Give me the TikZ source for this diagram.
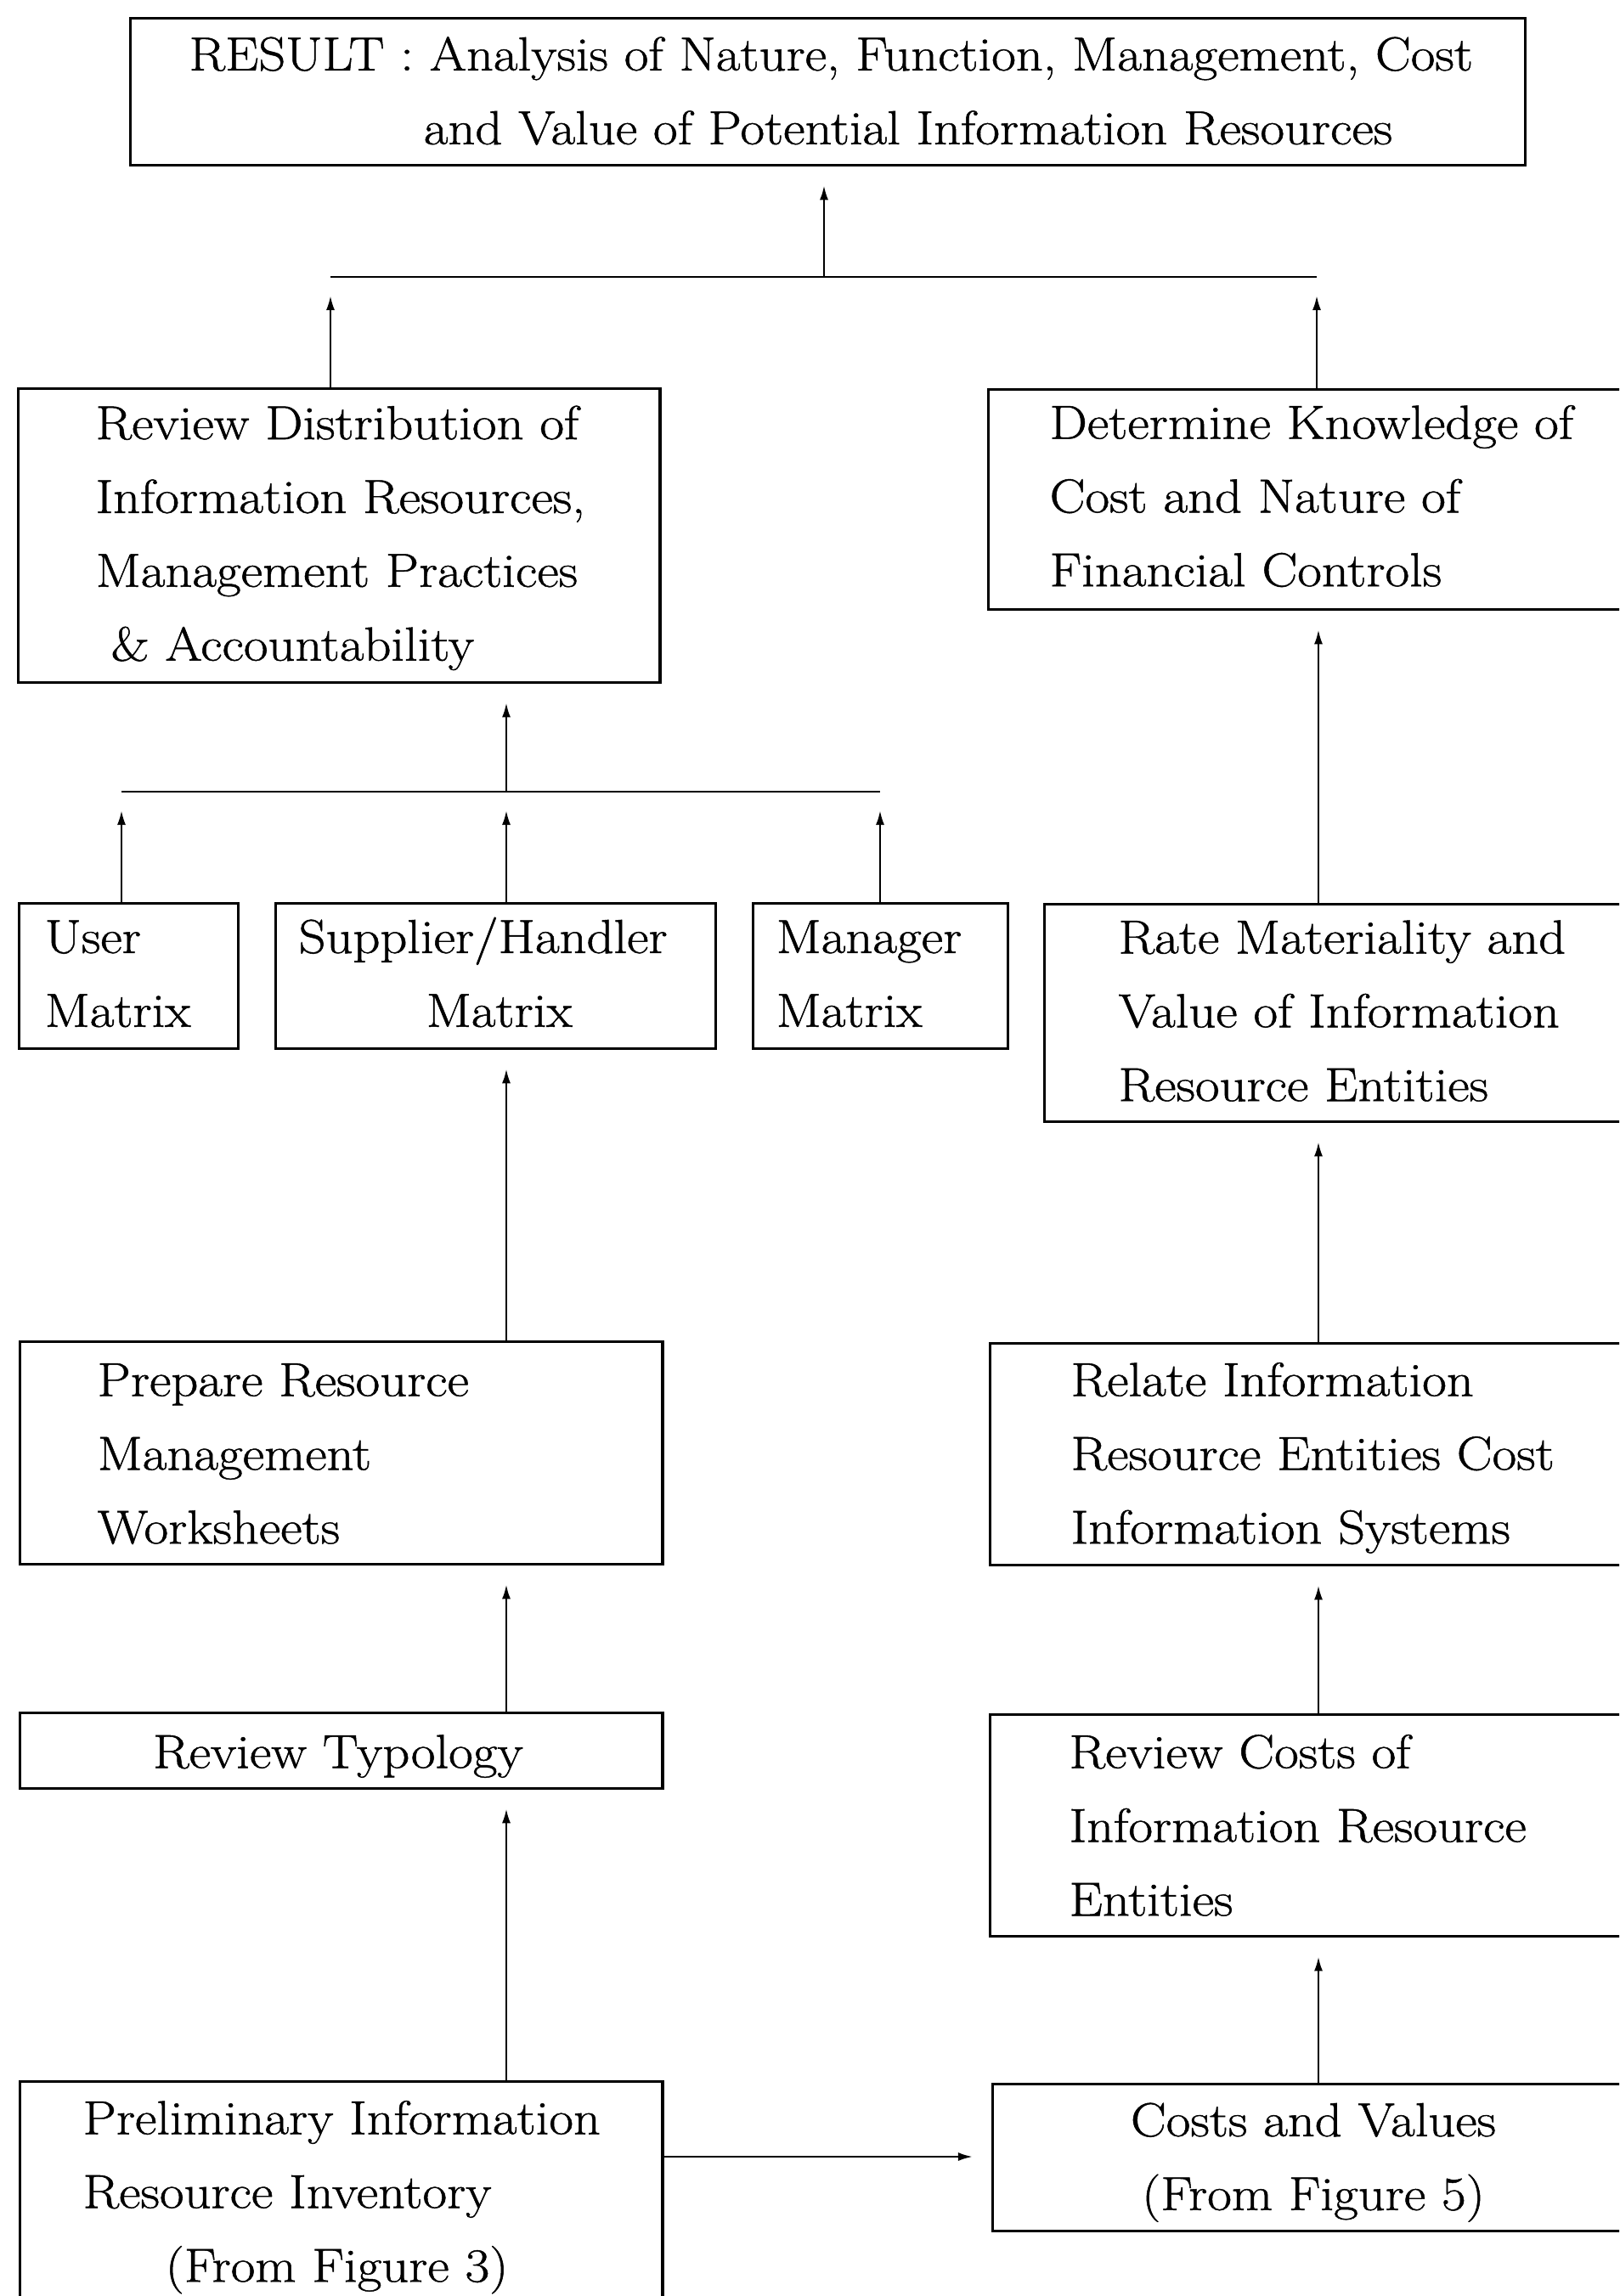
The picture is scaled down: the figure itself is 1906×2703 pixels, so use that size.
\documentclass[tikz,border=0pt]{standalone}
\usepackage{fontspec}
\setmainfont{Latin Modern Roman}[FakeBold=0.9,FakeStretch=1.11]
\usetikzlibrary{arrows.meta}
\begin{document}
\begin{tikzpicture}[x=0.01cm,y=-0.01cm,
  box/.style={draw, line width=0.9pt, inner sep=0, anchor=north west},
  txt/.style={inner sep=0, align=left, anchor=west, font=\fontsize{16}{24.7}\selectfont},
  conn/.style={line width=0.7pt},
  arr/.style={conn, -{Latex[length=0.17cm,width=0.1cm]}, shorten >=0.22cm}]
\useasboundingbox (0,0) rectangle (1906,2703);
\fill[white] (0,0) rectangle (1906,2703);
\clip (0,0) rectangle (1906,2703);
% boxes
\node[box, minimum width=16.41cm, minimum height=1.73cm] (res) at (152,20) {};
\node[box, minimum width=7.55cm, minimum height=3.46cm] (rd) at (20,456) {};
\node[box, minimum width=8.0cm, minimum height=2.59cm] (dk) at (1162,457) {};
\node[box, minimum width=2.58cm, minimum height=1.71cm] (user) at (21,1062) {};
\node[box, minimum width=5.18cm, minimum height=1.71cm] (sup) at (323,1062) {};
\node[box, minimum width=3.00cm, minimum height=1.71cm] (mgr) at (885,1062) {};
\node[box, minimum width=7.5cm, minimum height=2.56cm] (rm) at (1228,1063) {};
\node[box, minimum width=7.56cm, minimum height=2.62cm] (pr) at (22,1578) {};
\node[box, minimum width=8.0cm, minimum height=2.61cm] (ri) at (1164,1580) {};
\node[box, minimum width=7.56cm, minimum height=0.89cm] (rt) at (22,2015) {};
\node[box, minimum width=8.0cm, minimum height=2.61cm] (rc) at (1164,2017) {};
\node[box, minimum width=7.56cm, minimum height=3.0cm] (pi) at (22,2449) {};
\node[box, minimum width=8.0cm, minimum height=1.73cm] (cv) at (1167,2452) {};
% texts
\node[txt] (res-t) at (222,109) {\strut RESULT : Analysis of Nature, Function, Management, Cost\\\strut\hspace*{2.76cm}and Value of Potential Information Resources};
\node[txt] (rd-t) at (112,630) {\strut Review Distribution of\\\strut Information Resources,\\\strut Management Practices\\\strut\hspace*{0.18cm}\& Accountability};
\node[txt] (dk-t) at (1235,586) {\strut Determine Knowledge of\\\strut Cost and Nature of\\\strut Financial Controls};
\node[txt] (user-t) at (52,1148) {\strut User\\\strut Matrix};
\node[txt] (sup-t) at (351,1148) {\strut Supplier/Handler\\\strut\hspace*{1.5cm}Matrix};
\node[txt] (mgr-t) at (913,1148) {\strut Manager\\\strut Matrix};
\node[txt] (rm-t) at (1316,1192) {\strut Rate Materiality and\\\strut Value of Information\\\strut Resource Entities};
\node[txt] (pr-t) at (114,1713) {\strut Prepare Resource\\\strut Management\\\strut Worksheets};
\node[txt] (ri-t) at (1260,1713) {\strut Relate Information\\\strut Resource Entities Cost\\\strut Information Systems};
\node[txt, anchor=center] (rt-t) at (398,2064) {\strut Review Typology};
\node[txt] (rc-t) at (1258,2151) {\strut Review Costs of\\\strut Information Resource\\\strut Entities};
\node[txt] (pi-t) at (97,2582) {\strut Preliminary Information\\\strut Resource Inventory\\\strut\hspace*{0.97cm}(From Figure 3)};
\node[txt, anchor=center, align=center] (cv-t) at (1546,2541) {\strut Costs and Values\\\strut (From Figure 5)};
% join points
\coordinate (j1) at (970,326);
\coordinate (j1L) at (389,326);
\coordinate (j1R) at (1550,326);
\coordinate (j2) at (596,932);
\coordinate (j2L) at (143,932);
\coordinate (j2R) at (1036,932);
\coordinate (cL) at (596,0);
\coordinate (cR) at (1552,0);
\coordinate (row) at (0,2539);
% connectors
\draw[conn] (j1L) -- (j1R);
\draw[arr] (j1) -- (j1 |- res.south);
\draw[arr] (rd.north -| j1L) -- (j1L);
\draw[arr] (dk.north -| j1R) -- (j1R);
\draw[conn] (j2L) -- (j2R);
\draw[arr] (j2) -- (j2 |- rd.south);
\draw[arr] (user.north -| j2L) -- (j2L);
\draw[arr] (sup.north -| j2) -- (j2);
\draw[arr] (mgr.north -| j2R) -- (j2R);
\draw[arr] (pr.north -| cL) -- (sup.south -| cL);
\draw[arr] (rt.north -| cL) -- (pr.south -| cL);
\draw[arr] (pi.north -| cL) -- (rt.south -| cL);
\draw[arr] (rm.north -| cR) -- (dk.south -| cR);
\draw[arr] (ri.north -| cR) -- (rm.south -| cR);
\draw[arr] (rc.north -| cR) -- (ri.south -| cR);
\draw[arr] (cv.north -| cR) -- (rc.south -| cR);
\draw[arr] (pi.east |- row) -- (cv.west |- row);
\end{tikzpicture}
\end{document}
